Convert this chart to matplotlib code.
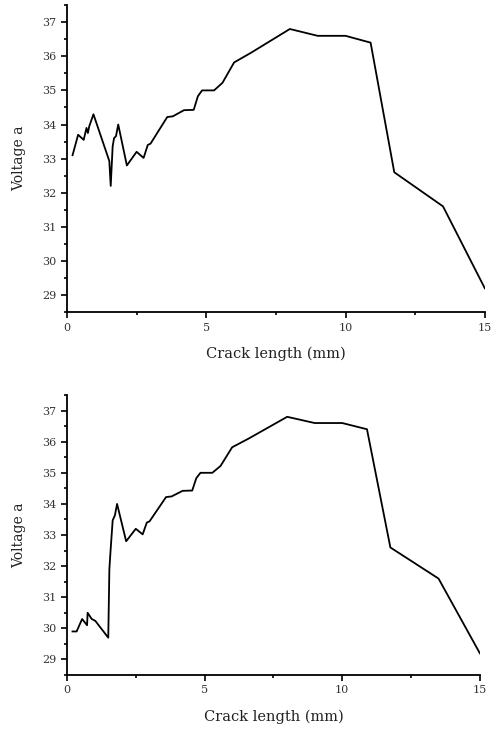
"""
Voltage vs crack length, two cases (top and bottom panels).
"""
import matplotlib
matplotlib.use('Agg')
import matplotlib.pyplot as plt
from matplotlib.ticker import MultipleLocator

# shared part of both curves (after the initial region)
tail_x = [6.6, 8.0, 9.0, 10.0, 10.9, 11.75, 13.5, 15.0]
tail_y = [36.1, 36.8, 36.6, 36.6, 36.4, 32.6, 31.6, 29.2]

mid_x = [2.15, 2.5, 2.75, 2.9, 3.0, 3.6, 3.8, 4.2, 4.55, 4.7, 4.85, 5.28, 5.58, 6.0]
mid_y = [32.8, 33.2, 33.02, 33.4, 33.44, 34.22, 34.24, 34.42, 34.43, 34.83, 35.0, 35.0, 35.22, 35.82]

# top panel start
top_x = [0.2, 0.4, 0.6, 0.7, 0.75, 0.8, 0.95, 1.42, 1.52, 1.57, 1.64, 1.69, 1.76, 1.84]
top_y = [33.1, 33.7, 33.55, 33.9, 33.75, 33.95, 34.3, 33.17, 32.93, 32.2, 33.36, 33.6, 33.66, 34.0]

# bottom panel start
bot_x = [0.2, 0.35, 0.55, 0.73, 0.75, 0.9, 1.03, 1.5, 1.54, 1.58, 1.66, 1.74, 1.82]
bot_y = [29.9, 29.9, 30.3, 30.1, 30.5, 30.3, 30.24, 29.7, 31.9, 32.45, 33.47, 33.63, 34.0]

plt.rcParams['font.family'] = 'DejaVu Serif'

fig = plt.figure(figsize=(4.98, 7.31), dpi=100)
ax1 = fig.add_axes([0.1345, 0.573, 0.839, 0.42])
ax2 = fig.add_axes([0.1345, 0.0766, 0.829, 0.383])

for ax, xs, ys in [(ax1, top_x, top_y), (ax2, bot_x, bot_y)]:
    ax.plot(xs + mid_x + tail_x, ys + mid_y + tail_y, color='black', lw=1.3)
    ax.set_xlim(0, 15)
    ax.set_ylim(28.5, 37.5)
    ax.xaxis.set_major_locator(MultipleLocator(5))
    ax.xaxis.set_minor_locator(MultipleLocator(2.5))
    ax.yaxis.set_major_locator(MultipleLocator(1))
    ax.yaxis.set_minor_locator(MultipleLocator(0.5))
    ax.spines['top'].set_visible(False)
    ax.spines['right'].set_visible(False)
    ax.spines['left'].set_linewidth(1.3)
    ax.spines['bottom'].set_linewidth(1.3)
    ax.tick_params(which='major', direction='out', length=4, width=1.2, labelsize=8, colors='black', labelcolor='#333333')
    ax.tick_params(which='minor', direction='out', length=2.5, width=1.2)
    ax.set_xlabel('Crack length (mm)', fontsize=10.5, labelpad=10, color='#222222')
    ax.set_ylabel('Voltage a', fontsize=10, labelpad=12, color='#222222')

fig.savefig('out.png', dpi=100)
